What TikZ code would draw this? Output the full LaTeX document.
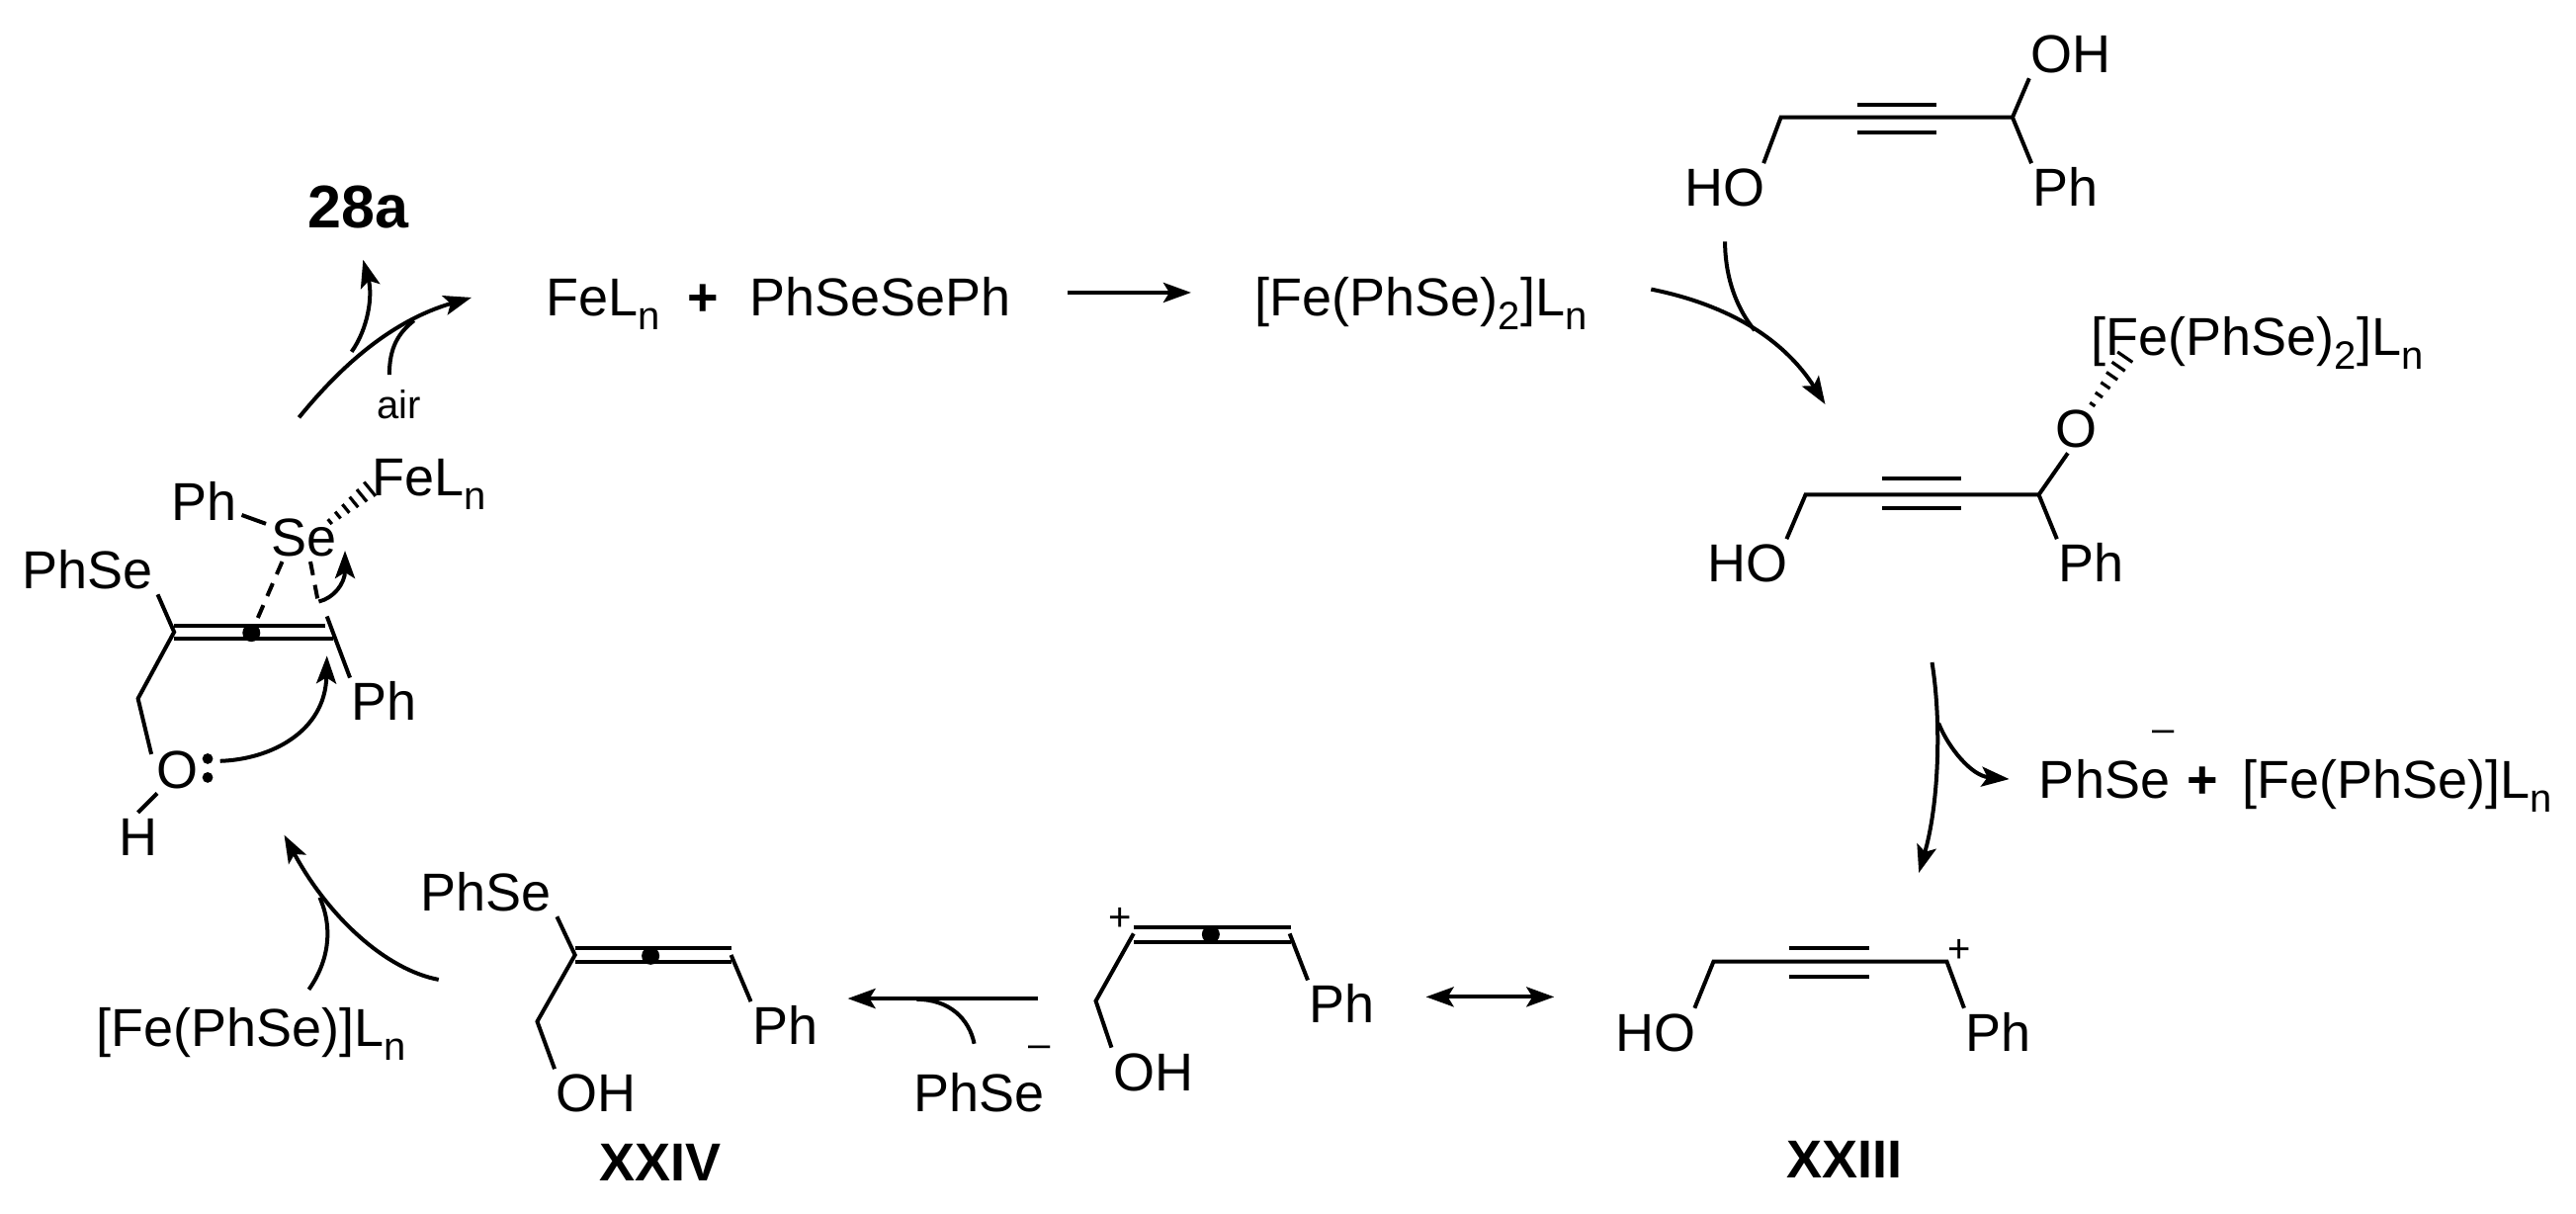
\documentclass[tikz,border=0pt]{standalone}
\usepackage{fontspec}
\setmainfont{Liberation Sans}
\usetikzlibrary{calc,arrows.meta}
\newcommand\lblf{\fontsize{27}{30}\selectfont}
\newcommand\sbs[1]{\raisebox{-.26em}{\fontsize{20}{20}\selectfont #1}}
\newcommand\hashbnd[2]{%
  \foreach \t/\w in {0.03/1.6,0.21/2.2,0.39/2.8,0.57/3.4,0.75/4.0,0.93/4.6}
    \draw[line width=1.6pt] ($(#1)!\t!(#2)!\w pt!90:(#2)$) -- ($(#1)!\t!(#2)!\w pt!-90:(#2)$);}
\tikzset{
  lbl/.style={inner sep=2.5pt,font=\lblf,text height=19pt,text depth=0pt,text=black},
  lblb/.style={lbl,font=\lblf\bfseries},
  big/.style={inner sep=2.5pt,font=\fontsize{30.5}{32}\selectfont\bfseries,text height=21pt,text depth=0pt},
  sml/.style={inner sep=1pt,font=\fontsize{20}{22}\selectfont,text height=14pt,text depth=0pt},
  bond/.style={line width=2pt},
  dbond/.style={line width=2pt,dash pattern=on 7pt off 5pt},
  arw/.style={line width=2pt,-{Stealth[length=14pt,width=10pt,inset=3pt]}},
  arwn/.style={line width=2pt},
  dot/.style={circle,fill=black,inner sep=0pt,minimum size=9pt}
}
\begin{document}
\begin{tikzpicture}[x=.83099pt,y=-.8313pt]
\useasboundingbox (0,0) rectangle (1568,738);
% ---------- top row
\node[big] (p28) at (218,126) {28a};
\node[lbl] (feln) at (367,181) {FeL\sbs{n}};
\node[lblb] (plus1) at (428,181) {+};
\node[lbl] (pss) at (536,181) {PhSeSePh};
\node[lbl] (fe2) at (865,181) {[Fe(PhSe)\sbs{2}]L\sbs{n}};
\draw[arw] (650,178) coordinate (a1s) -- (725,178) coordinate (a1e);
% ---------- top molecule
\node[lbl] (tOH) at (1260.6,33) {OH};
\node[lbl] (tHO) at (1050,114) {HO};
\node[lbl] (tPh) at (1257.5,114) {Ph};
\coordinate (t1) at (1084,71.4);
\coordinate (t2) at (1225,71.4);
\draw[bond] (tHO.32) -- (t1) -- (t2) -- (tOH.210);
\draw[bond] (t2) -- (tPh.145);
\draw[bond] (1130.6,64) -- (1178.7,64);
\draw[bond] (1130.6,80.6) -- (1178.7,80.6);
\draw[arw] (1005,176) .. controls (1050,185) and (1085,205) .. (1111,246);
\draw[arwn] (1050,147) .. controls (1050,165) and (1055,185) .. (1068,201);
% ---------- O-bound molecule
\node[lbl] (mFe) at (1374,205) {[Fe(PhSe)\sbs{2}]L\sbs{n}};
\node[lbl] (mO) at (1264,261) {O};
\node[lbl] (mHO) at (1064,342.6) {HO};
\node[lbl] (mPh) at (1273,342.6) {Ph};
\coordinate (m1) at (1099,301);
\coordinate (m2) at (1241,301);
\draw[bond] (mHO.32) -- (m1) -- (m2) -- (mO.250);
\draw[bond] (m2) -- (mPh.145);
\draw[bond] (1145.6,291) -- (1194,291);
\draw[bond] (1145.6,309.3) -- (1194,309.3);
\coordinate (mh1) at (1273,247);
\coordinate (mh2) at (1295,215);
\hashbnd{mh1}{mh2}
% ---------- right products
\draw[arw] (1176,403) .. controls (1182,440) and (1180,490) .. (1168,531);
\draw[arw] (1180,440) .. controls (1186,455) and (1200,472) .. (1223,474);
\node[lbl] (rSe) at (1281,474) {PhSe};
\node[sml] (rm) at (1317,443) {–};
\node[lblb] (rp) at (1341,474) {+};
\node[lbl] (rFe) at (1459,474) {[Fe(PhSe)]L\sbs{n}};
% ---------- XXIII
\node[lbl] (xHO) at (1008,628) {HO};
\node[lbl] (xPh) at (1216.5,628) {Ph};
\node[sml] (xp) at (1192.6,577) {+};
\node[lblb] (x23) at (1123,705) {XXIII};
\coordinate (x1) at (1043,585);
\coordinate (x2) at (1185,585);
\draw[bond] (xHO.32) -- (x1) -- (x2) -- (xPh.145);
\draw[bond] (1089,577) -- (1138,577);
\draw[bond] (1089,594) -- (1138,594);
% ---------- resonance
\draw[line width=2pt,{Stealth[length=14pt,width=10pt,inset=3pt]}-{Stealth[length=14pt,width=10pt,inset=3pt]}] (868,606.5) -- (946,606.5);
% ---------- allenyl cation
\node[sml] (ap) at (682,558) {+};
\node[lbl] (aOH) at (702,652) {OH};
\node[lbl] (aPh) at (817,611) {Ph};
\coordinate (a2) at (667,609);
\coordinate (a3) at (690,568);
\coordinate (a4) at (785,568);
\draw[bond] (aOH.150) -- (a2) -- (a3);
\draw[bond] (a4) -- (aPh.145);
\draw[bond] (690,564) -- (786,564);
\draw[bond] (690,573) -- (786,573);
\node[dot] (ad) at (737,568.5) {};
% ---------- arrow to XXIV
\draw[arw] (632,607.5) -- (516,607.5);
\draw[arwn] (593,635) .. controls (590,620) and (578,608) .. (558,608);
\node[sml] (bm) at (633,635) {–};
\node[lbl] (bSe) at (596,665) {PhSe};
% ---------- XXIV
\node[lbl] (cSe) at (296,543) {PhSe};
\node[lbl] (cOH) at (363,665) {OH};
\node[lbl] (cPh) at (478,624) {Ph};
\node[lblb] (x24) at (402,707) {XXIV};
\coordinate (c1) at (350,581);
\coordinate (c2) at (327,621.5);
\coordinate (c3) at (445,581);
\draw[bond] (cSe.south east) -- (c1) -- (c2) -- (cOH.150);
\draw[bond] (c3) -- (cPh.145);
\draw[bond] (350,577) -- (445,577);
\draw[bond] (350,585.5) -- (445,585.5);
\node[dot] (cd) at (396,581.5) {};
% ---------- arrow to left complex
\draw[arw] (267,596) .. controls (235,590) and (200,558) .. (173,508);
\draw[arwn] (188,602) .. controls (200,585) and (203,565) .. (194.6,546);
\node[lbl] (dFe) at (153,625) {[Fe(PhSe)]L\sbs{n}};
% ---------- left complex
\node[lbl] (lPh) at (124,305) {Ph};
\node[lbl] (lSe) at (185,327) {Se};
\node[lbl] (lFe) at (261,290) {FeL\sbs{n}};
\node[lbl] (lPS) at (53,347) {PhSe};
\node[lbl] (lPh2) at (234,427) {Ph};
\node[lbl] (lO) at (108,468) {O};
\node[lbl] (lH) at (84,509) {H};
\coordinate (l1) at (106,384.5);
\coordinate (l2) at (84,425);
\coordinate (l3) at (199,375);
\coordinate (l4) at (194,368);
\draw[bond] (lPS.south east) -- (l1) -- (l2) -- (lO.150);
\draw[bond] (l3) -- (lPh2.145);
\draw[bond] (106,380.5) -- (198,380.5);
\draw[bond] (106,388.6) -- (203,388.6);
\node[dot] (ld) at (153,385) {};
\draw[bond] (lPh) -- (lSe);
\draw[bond] (lO.230) -- (lH.north);
\draw[dbond] (lSe.228) -- (ld);
\draw[dbond] (lSe.-75) -- (l4);
\coordinate (lh1) at (200,318);
\coordinate (lh2) at (227,296);
\hashbnd{lh1}{lh2}
\fill (126.4,461.6) circle (2.7pt) (126.4,473) circle (2.7pt);
\draw[arw] (134,463) .. controls (165,462) and (198,445) .. (199,399);
\draw[arw] (194,366) .. controls (203,364) and (210,355) .. (210,335);
% ---------- regeneration arrows
\coordinate (u1) at (214,214);
\draw[arw] (182,254) .. controls (200,232) and (232,197) .. (287,181);
\draw[arw] (u1) .. controls (224,200) and (227,180) .. (221,158);
\draw[arwn] (237,228) .. controls (237,212) and (242,203) .. (252,195);
\node[sml] (air) at (243,246) {air};
\end{tikzpicture}
\end{document}
